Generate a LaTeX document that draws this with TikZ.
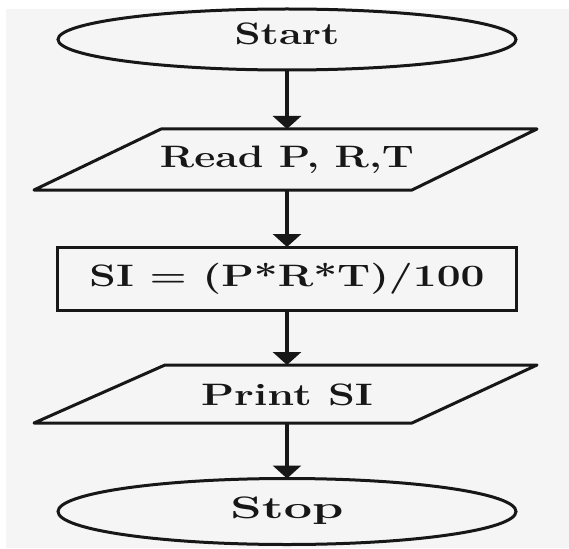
\documentclass[tikz,border=0pt]{standalone}
\usepackage{graphicx}
\usetikzlibrary{shapes.geometric,arrows.meta}
\definecolor{ink}{HTML}{171717}
\definecolor{paper}{HTML}{F5F5F5}
% label text: baseline offset from node centre, forced width
\newcommand{\fclabel}[3]{\raisebox{#1}[0pt][0pt]{\resizebox{#2}{\height}{\fontsize{31}{31}\selectfont\bfseries #3}}}
\tikzset{
  base/.style={inner sep=0pt, outer sep=0pt, text=ink},
  terminal/.style={base, ellipse, draw=ink, line width=3pt, minimum width=458pt},
  process/.style={base, rectangle, draw=ink, line width=3pt, minimum width=459pt, minimum height=63pt},
  iobox/.style={base, rectangle, minimum width=250pt},
  flow/.style={draw=ink, line width=3.2pt, -{Triangle[width=28pt,length=13pt]}},
  slanted/.style={draw=ink, line width=3pt, line join=round}
}
\begin{document}
\begin{tikzpicture}[x=1pt,y=-1pt]
  \useasboundingbox (0,0) rectangle (569,548);
  \fill[white] (0,0) rectangle (569,548);
  \fill[paper] (6,9) rectangle (569,548);

  % nodes of the flowchart
  \node[terminal, minimum height=61pt] (start) at (287,39.5) {\fclabel{-5.5pt}{105pt}{Start}};
  \node[iobox, minimum height=61pt] (read) at (287,159.5) {\fclabel{-8.5pt}{254pt}{Read P, R,T}};
  \node[process] (calc) at (287,278.5) {\fclabel{-7.5pt}{395pt}{SI = (P*R*T)/100}};
  \node[iobox, minimum height=58pt] (print) at (287,394) {\fclabel{-11pt}{172pt}{Print SI}};
  \node[terminal, minimum height=66pt] (stop) at (287,511.5) {\fclabel{-6.5pt}{113pt}{Stop}};

  % input/output parallelograms
  \draw[slanted] ([xshift=-126pt]read.north) -- ([xshift=250pt]read.north)
    -- ([xshift=125pt]read.south) -- ([xshift=-253pt]read.south) -- cycle;
  \draw[slanted] ([xshift=-122pt]print.north) -- ([xshift=250pt]print.north)
    -- ([xshift=125pt]print.south) -- ([xshift=-253pt]print.south) -- cycle;

  % connectors
  \draw[flow] (start) -- (read);
  \draw[flow] (read) -- (calc);
  \draw[flow] (calc) -- (print);
  \draw[flow] (print) -- (stop);
\end{tikzpicture}
\end{document}
